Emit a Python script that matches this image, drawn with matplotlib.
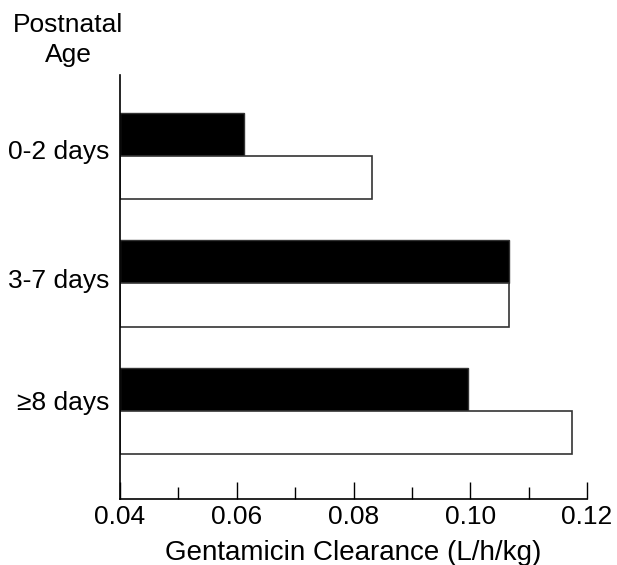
import matplotlib
matplotlib.use("Agg")
import matplotlib.pyplot as plt
import numpy as np

plt.rcParams['font.family'] = ['Liberation Sans', 'DejaVu Sans']

categories = ["0-2 days", "3-7 days", "\u22658 days"]
black_vals = [0.0613, 0.1066, 0.0997]
white_vals = [0.0832, 0.1066, 0.1174]
label_pos = [-0.047, -0.04, -0.086]
xticks = [0.04, 0.06, 0.08, 0.10, 0.12]
xticklabels = ["0.04", "0.06", "0.08", "0.10", "0.12"]

fig = plt.figure(figsize=(6.17, 5.65), dpi=100)
ax = fig.add_axes([120/617, 1 - 499/565, (587-120)/617, (499-75)/565])

y = np.arange(len(categories))
h = 0.34
base = 0.04
ax.barh(y - h/2, np.array(black_vals) - base, left=base, height=h,
        color='black', edgecolor='#333333', linewidth=1)
ax.barh(y + h/2, np.array(white_vals) - base, left=base, height=h,
        color='white', edgecolor='#333333', linewidth=1.2)

ax.set_xlim(0.04, 0.12)
ax.set_ylim(2.69, -0.635)
ax.set_xticks(xticks)
ax.set_xticklabels(xticklabels, fontsize=19)
ax.set_xticks(np.arange(0.05, 0.12, 0.02), minor=True)
ax.tick_params(axis='x', which='major', direction='in', length=12, width=1, pad=4)
ax.tick_params(axis='x', which='minor', direction='in', length=9, width=1)
ax.set_yticks(np.array(y) + np.array(label_pos))
ax.set_yticklabels(categories, fontsize=19)
ax.tick_params(axis='y', length=0, pad=8)
for s in ['top', 'right']:
    ax.spines[s].set_visible(False)
ax.spines['left'].set_linewidth(1.2)
ax.spines['bottom'].set_linewidth(1.2)
ax.set_xlabel("Gentamicin Clearance (L/h/kg)", fontsize=20, labelpad=8)

fig.text(68/617, 1 - 40/565, "Postnatal\nAge", ha='center', va='center',
         fontsize=19, linespacing=1.35)

fig.savefig("out.png", dpi=100)
